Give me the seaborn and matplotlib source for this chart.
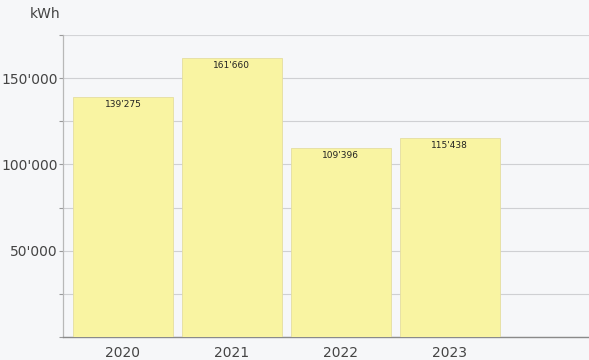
import matplotlib
matplotlib.use("Agg")
import matplotlib.pyplot as plt
from matplotlib.ticker import MultipleLocator, FuncFormatter
import seaborn as sns
import pandas as pd

# Annual energy production
years = ["2020", "2021", "2022", "2023"]
energy_kwh = [139275, 161660, 109396, 115438]
value_labels = ["139'275", "161'660", "109'396", "115'438"]

df = pd.DataFrame({"year": years, "kwh": energy_kwh})

sns.set_theme(style="white")
plt.rcParams["font.family"] = ["DejaVu Sans"]

bg = "#f6f7f9"
fig = plt.figure(figsize=(5.89, 3.60), dpi=100, facecolor=bg)
ax = fig.add_axes([63 / 589, 23 / 360, 526 / 589, 302 / 360])
ax.set_facecolor(bg)

sns.barplot(data=df, x="year", y="kwh", color="#f9f4a2", saturation=1,
            width=0.92, edgecolor="#e4dea0", linewidth=0.6, ax=ax, zorder=3)

ax.set_ylim(0, 175000)
ax.set_xlim(-0.55, 4.28)
ax.yaxis.set_major_locator(MultipleLocator(50000))
ax.yaxis.set_minor_locator(MultipleLocator(25000))
ax.yaxis.set_major_formatter(
    FuncFormatter(lambda v, _: "" if v == 0 else f"{int(v):,}".replace(",", "'")))
ax.grid(axis="y", which="both", color="#cfd0d3", linewidth=0.8, zorder=0)
ax.tick_params(axis="y", which="both", left=True, length=3, width=0.8,
               color="#9a9a9a", labelsize=10, labelcolor="#444444", pad=1)
ax.tick_params(axis="x", bottom=False, labelsize=10, labelcolor="#444444", pad=0.5)

for side in ("top", "right"):
    ax.spines[side].set_visible(False)
ax.spines["left"].set_color("#b8b8b8")
ax.spines["bottom"].set_color("#8a8a8a")
ax.spines["left"].set_linewidth(0.9)
ax.spines["bottom"].set_linewidth(1.0)
ax.axhline(175000, color="#d4d5d8", linewidth=1.2, zorder=1)

for i, (v, lab) in enumerate(zip(energy_kwh, value_labels)):
    ax.text(i, v - 1800, lab, ha="center", va="top", fontsize=6.5,
            color="#222222", zorder=4)

ax.set_xlabel("")
ax.set_ylabel("")
fig.text(45 / 589, 1 - 14 / 360, "kWh", ha="center", va="center",
         fontsize=10, color="#444444")

fig.savefig("out.png", dpi=100, facecolor=bg)
